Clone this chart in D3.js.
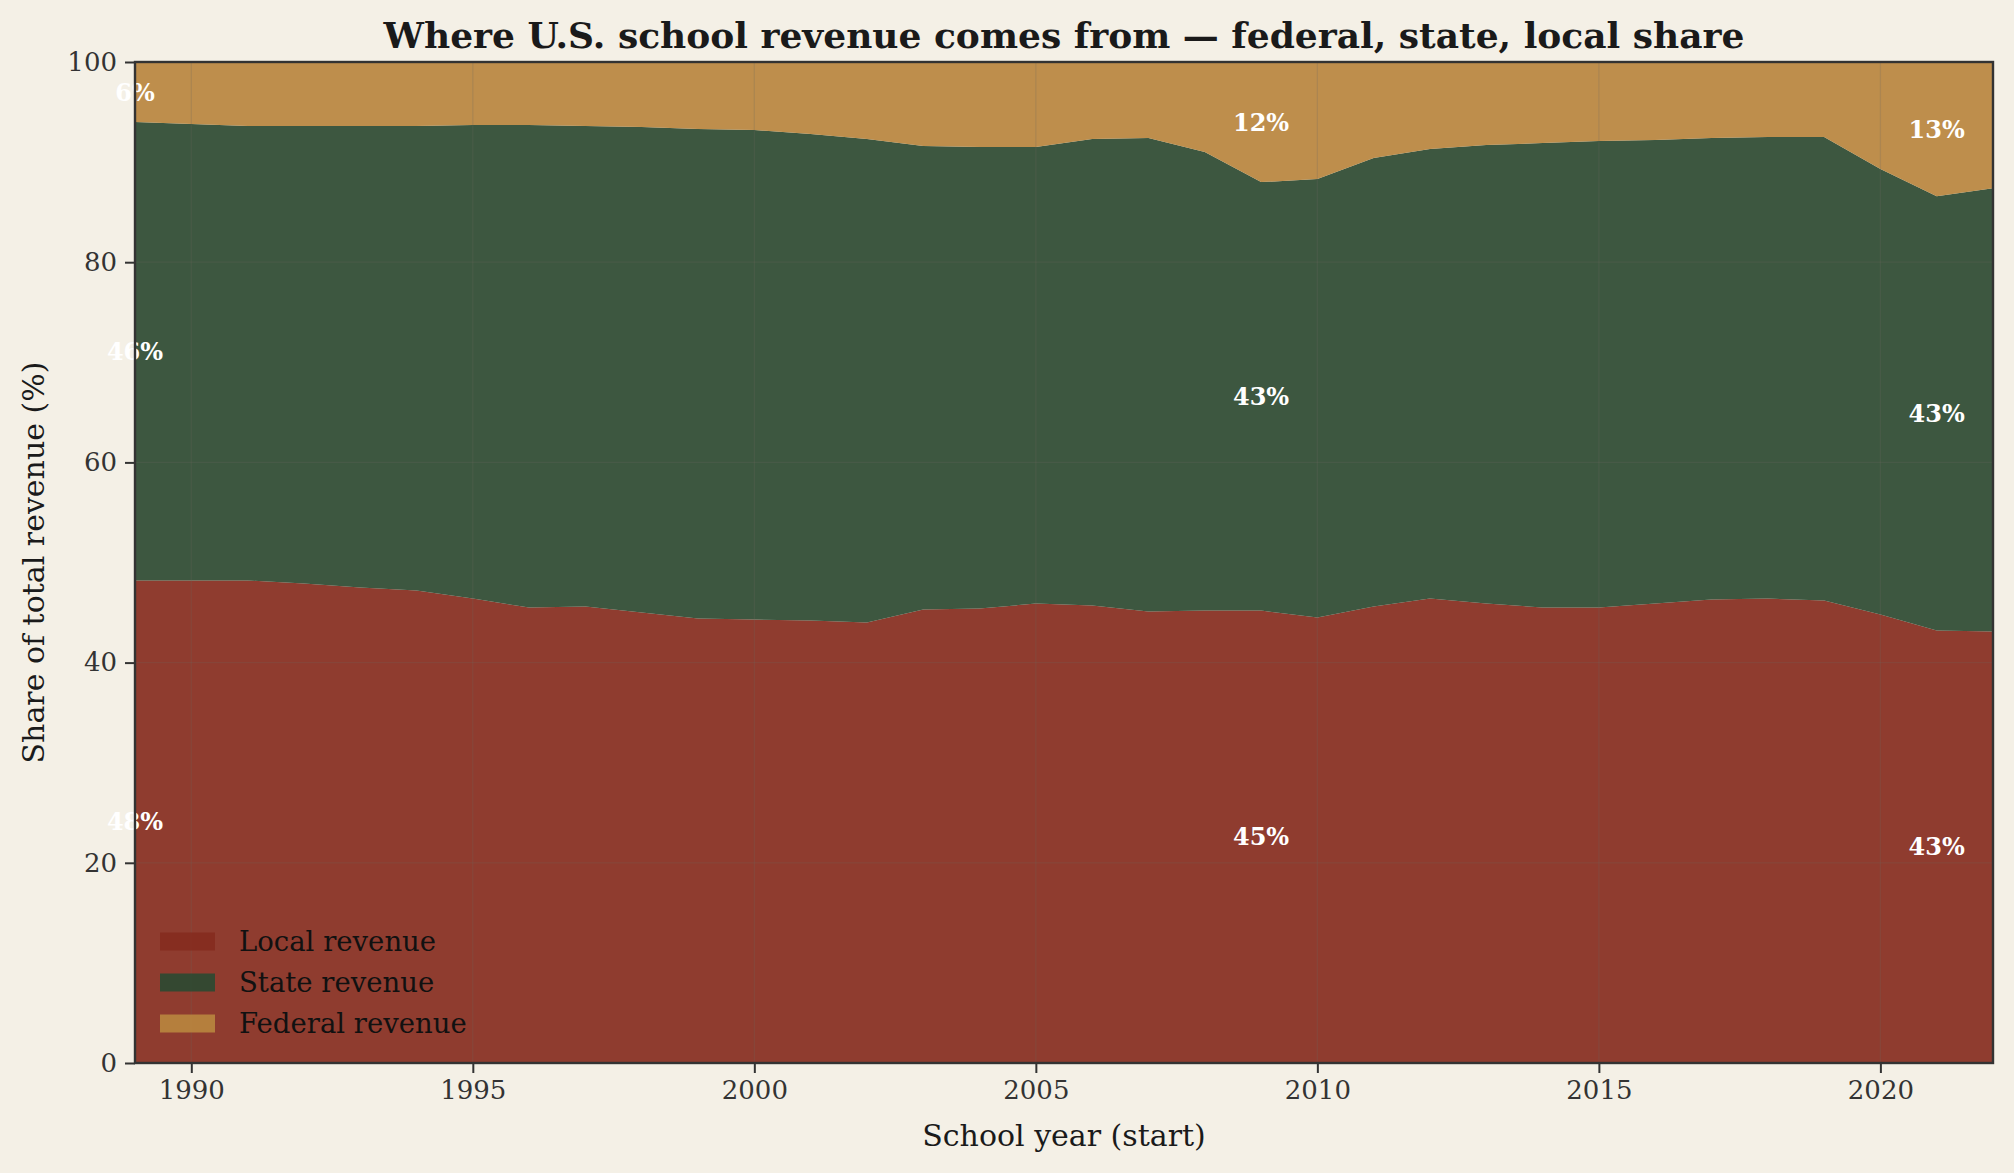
<!DOCTYPE html>
<html>
<head>
<meta charset="utf-8">
<script src="https://cdn.jsdelivr.net/npm/d3@7"></script>
<style>
  body { margin: 0; background: #f4f0e6; }
  text { font-family: "DejaVu Serif", serif; }
</style>
</head>
<body>
<div id="chart"></div>
<script>
"use strict";

// school years (start)
var years = [1989, 1990, 1991, 1992, 1993, 1994, 1995, 1996, 1997, 1998,
    1999, 2000, 2001, 2002, 2003, 2004, 2005, 2006, 2007, 2008,
    2009, 2010, 2011, 2012, 2013, 2014, 2015, 2016, 2017, 2018,
    2019, 2020, 2021, 2022];

// share of total revenue, %
var localShare = [48.2, 48.2, 48.2, 47.9, 47.5, 47.2, 46.4, 45.5, 45.6, 45.0,
    44.4, 44.3, 44.2, 44.0, 45.3, 45.4, 45.9, 45.7, 45.1, 45.2,
    45.2, 44.5, 45.6, 46.4, 45.9, 45.5, 45.5, 45.9, 46.3, 46.4,
    46.2, 44.8, 43.2, 43.1];
var stateShare = [45.8, 45.6, 45.4, 45.7, 46.1, 46.4, 47.3, 48.2, 48.0, 48.5,
    48.9, 48.9, 48.6, 48.3, 46.3, 46.1, 45.6, 46.6, 47.3, 45.8,
    42.8, 43.8, 44.8, 44.9, 45.8, 46.4, 46.6, 46.3, 46.1, 46.1,
    46.3, 44.5, 43.4, 44.3];
var federalShare = [6.0, 6.2, 6.4, 6.4, 6.4, 6.4, 6.3, 6.3, 6.4, 6.5,
    6.7, 6.8, 7.2, 7.7, 8.4, 8.5, 8.5, 7.7, 7.6, 9.0,
    12.0, 11.7, 9.6, 8.7, 8.3, 8.1, 7.9, 7.8, 7.6, 7.5,
    7.5, 10.7, 13.4, 12.6];

var seriesNames = ["Local revenue", "State revenue", "Federal revenue"];
var seriesKeys = ["local", "state", "federal"];
var seriesColors = ["#862c1f", "#2d4a32", "#b8863f"];
var labelYears = [1989, 2009, 2021];
var yTicks = [0, 20, 40, 60, 80, 100];
var xTicks = [1990, 1995, 2000, 2005, 2010, 2015, 2020];

var width = 2014, height = 1173;
var margin = {top: 62, right: 21, bottom: 110, left: 135};
var plotW = width - margin.left - margin.right;
var plotH = height - margin.top - margin.bottom;

var rows = years.map(function(y, i) {
    return {year: y, local: localShare[i], state: stateShare[i], federal: federalShare[i]};
});

var svg = d3.select("#chart").append("svg")
    .attr("width", width)
    .attr("height", height);
svg.append("rect").attr("width", width).attr("height", height).attr("fill", "#f4f0e6");

var g = svg.append("g").attr("transform", "translate(" + margin.left + "," + margin.top + ")");

var x = d3.scaleLinear().domain([1989, 2022]).range([0, plotW]);
var y = d3.scaleLinear().domain([0, 100]).range([plotH, 0]);

var stack = d3.stack().keys(seriesKeys);
var layers = stack(rows);

var area = d3.area()
    .x(function(d) { return x(d.data.year); })
    .y0(function(d) { return y(d[0]); })
    .y1(function(d) { return y(d[1]); });

g.selectAll(".layer")
    .data(layers)
    .enter().append("path")
    .attr("class", "layer")
    .attr("d", area)
    .attr("fill", function(d, i) { return seriesColors[i]; })
    .attr("fill-opacity", 0.92);

// grid
g.append("g").selectAll("line")
    .data(xTicks)
    .enter().append("line")
    .attr("x1", function(d) { return x(d); })
    .attr("x2", function(d) { return x(d); })
    .attr("y1", 0).attr("y2", plotH)
    .attr("stroke", "#6e6a60").attr("stroke-opacity", 0.22).attr("stroke-width", 1.3);
g.append("g").selectAll("line")
    .data(yTicks)
    .enter().append("line")
    .attr("x1", 0).attr("x2", plotW)
    .attr("y1", function(d) { return y(d); })
    .attr("y2", function(d) { return y(d); })
    .attr("stroke", "#6e6a60").attr("stroke-opacity", 0.22).attr("stroke-width", 1.3);

// share labels
layers.forEach(function(layer) {
    labelYears.forEach(function(yr) {
        var p = layer[years.indexOf(yr)];
        g.append("text")
            .attr("x", x(yr))
            .attr("y", y((p[0] + p[1]) / 2))
            .attr("dy", "0.36em")
            .attr("text-anchor", "middle")
            .attr("fill", "#ffffff")
            .attr("font-weight", "bold")
            .attr("font-size", 24)
            .text(Math.round(p[1] - p[0]) + "%");
    });
});

// axes
var xAxis = g.append("g")
    .attr("transform", "translate(0," + plotH + ")")
    .call(d3.axisBottom(x).tickValues(xTicks).tickFormat(d3.format("d")).tickSize(10).tickPadding(8));
var yAxis = g.append("g")
    .call(d3.axisLeft(y).tickValues(yTicks).tickSize(10).tickPadding(8));
[xAxis, yAxis].forEach(function(ax) {
    ax.select(".domain").remove();
    ax.selectAll("line").attr("stroke", "#333333").attr("stroke-width", 2);
    ax.selectAll("text").attr("fill", "#333333").attr("font-size", 26)
        .attr("font-family", "DejaVu Serif");
});

// frame
g.append("rect")
    .attr("width", plotW).attr("height", plotH)
    .attr("fill", "none").attr("stroke", "#333333").attr("stroke-width", 2.4);

// legend
var legend = g.append("g").attr("transform", "translate(25," + (941.5 - margin.top) + ")");
seriesNames.forEach(function(name, i) {
    var row = legend.append("g").attr("transform", "translate(0," + (i * 41) + ")");
    row.append("rect")
        .attr("x", 0).attr("y", -9).attr("width", 55).attr("height", 18)
        .attr("fill", seriesColors[i]).attr("fill-opacity", 0.92);
    row.append("text")
        .attr("x", 79).attr("y", 0).attr("dy", "0.36em")
        .attr("font-size", 27.5).attr("fill", "#111111")
        .text(name);
});

// titles
svg.append("text")
    .attr("x", margin.left + plotW / 2).attr("y", 35)
    .attr("dy", "0.36em")
    .attr("text-anchor", "middle")
    .attr("font-size", 36).attr("font-weight", "bold").attr("fill", "#1a1a1a")
    .text("Where U.S. school revenue comes from — federal, state, local share");

svg.append("text")
    .attr("x", margin.left + plotW / 2).attr("y", 1135)
    .attr("dy", "0.36em")
    .attr("text-anchor", "middle")
    .attr("font-size", 30).attr("fill", "#1a1a1a")
    .text("School year (start)");

svg.append("text")
    .attr("transform", "translate(33," + (margin.top + plotH / 2) + ") rotate(-90)")
    .attr("dy", "0.36em")
    .attr("text-anchor", "middle")
    .attr("font-size", 30).attr("fill", "#1a1a1a")
    .text("Share of total revenue (%)");
</script>
</body>
</html>
